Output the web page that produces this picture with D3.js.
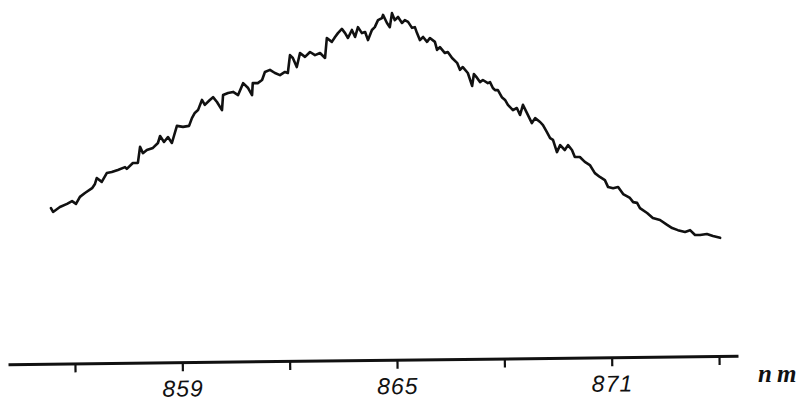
<!DOCTYPE html>
<meta charset="utf-8">
<style>
body {
  margin: 0;
  background: #fff;
}
svg {
  display: block;
}
.tick text {
  font: italic 23px "Liberation Sans", Arial, sans-serif;
  fill: #111;
  letter-spacing: 1px;
}
.unit {
  font: italic bold 25px "Liberation Serif", serif;
  fill: #111;
  letter-spacing: 5px;
}
</style>
<svg width="811" height="404"></svg>
<script src="https://cdn.jsdelivr.net/npm/d3@7"></script>
<script>

// wavelength (nm) and relative intensity
var wavelength = [
  855.33, 855.39, 855.58, 855.78, 855.92, 856.03, 856.14, 856.28, 856.48, 856.56,
  856.61, 856.75, 856.89, 857.03, 857.20, 857.40, 857.45, 857.62, 857.76, 857.82,
  857.90, 858.01, 858.18, 858.32, 858.38, 858.49, 858.60, 858.71, 858.85, 859.02,
  859.19, 859.27, 859.35, 859.44, 859.55, 859.63, 859.77, 859.86, 859.97, 860.11,
  860.14, 860.28, 860.42, 860.56, 860.70, 860.84, 860.95, 860.97, 861.11, 861.23,
  861.31, 861.45, 861.59, 861.73, 861.87, 861.95, 862.01, 862.09, 862.20, 862.29,
  862.43, 862.57, 862.71, 862.85, 862.99, 863.04, 863.18, 863.27, 863.35, 863.46,
  863.55, 863.63, 863.74, 863.83, 863.91, 864.02, 864.11, 864.19, 864.30, 864.38,
  864.47, 864.58, 864.61, 864.72, 864.80, 864.86, 864.94, 865.03, 865.14, 865.22,
  865.31, 865.42, 865.50, 865.56, 865.64, 865.73, 865.84, 865.92, 866.06, 866.12,
  866.20, 866.34, 866.42, 866.54, 866.68, 866.76, 866.84, 866.98, 867.10, 867.15,
  867.24, 867.32, 867.40, 867.54, 867.60, 867.68, 867.74, 867.82, 867.93, 868.02,
  868.10, 868.24, 868.35, 868.44, 868.52, 868.63, 868.77, 868.86, 869.00, 869.08,
  869.19, 869.28, 869.36, 869.47, 869.56, 869.69, 869.78, 869.89, 869.97, 870.11,
  870.25, 870.39, 870.53, 870.67, 870.81, 870.90, 871.04, 871.18, 871.32, 871.51,
  871.60, 871.71, 871.79, 871.99, 872.15, 872.35, 872.55, 872.69, 872.85, 873.05,
  873.19, 873.33, 873.47, 873.66, 873.83, 874.03
];
var intensity = [
  43.4, 42.3, 43.7, 44.6, 45.4, 44.6, 46.6, 47.7, 49.1, 50.3,
  52.0, 50.9, 53.4, 53.7, 54.3, 55.1, 54.6, 56.3, 56.3, 60.9,
  59.1, 60.0, 60.6, 62.0, 64.0, 62.3, 63.7, 62.0, 66.9, 66.6,
  66.9, 69.1, 70.6, 71.4, 74.3, 72.9, 74.3, 75.1, 73.7, 71.4,
  75.7, 76.3, 76.6, 75.7, 79.1, 77.7, 75.7, 79.1, 79.1, 80.0,
  82.3, 82.9, 82.0, 81.4, 82.3, 82.0, 87.1, 86.3, 83.7, 87.7,
  86.6, 88.0, 87.1, 87.7, 86.3, 92.0, 90.9, 92.3, 93.4, 94.6,
  93.4, 92.0, 94.3, 92.3, 95.1, 93.4, 93.7, 91.4, 94.3, 95.1,
  97.1, 97.7, 98.6, 96.3, 95.1, 99.1, 97.1, 98.0, 96.3, 97.1,
  96.6, 94.9, 95.1, 93.4, 91.4, 92.3, 90.9, 92.0, 90.9, 88.6,
  89.4, 87.7, 88.0, 86.3, 84.9, 82.9, 83.7, 82.0, 78.3, 81.7,
  80.6, 79.4, 80.0, 79.1, 79.4, 77.7, 77.1, 77.1, 75.1, 74.3,
  72.9, 71.4, 72.0, 70.0, 72.9, 70.6, 67.7, 69.1, 68.0, 67.1,
  65.1, 63.4, 62.9, 59.4, 61.4, 60.0, 61.4, 60.0, 58.0, 58.0,
  56.6, 55.7, 53.4, 52.3, 51.4, 49.4, 49.1, 49.4, 47.4, 46.3,
  45.1, 44.9, 43.4, 42.0, 40.6, 40.0, 38.6, 37.7, 37.1, 36.6,
  37.1, 35.7, 35.7, 36.0, 35.4, 34.9
];
var tickValues = [856, 859, 862, 865, 868, 871, 874];
var tickLabels = [859, 865, 871];

var svg = d3.select("svg");

var x = d3.scaleLinear()
    .domain([854.13, 874.53])
    .range([8, 738]);

var y = d3.scaleLinear()
    .domain([0, 100])
    .range([360, 10]);

var data = wavelength.map(function(w, i) { return [w, intensity[i]]; });

var line = d3.line()
    .x(function(d) { return x(d[0]); })
    .y(function(d) { return y(d[1]); });

svg.append("path")
    .datum(data)
    .attr("d", line)
    .attr("fill", "none")
    .attr("stroke", "#111")
    .attr("stroke-width", 2.6)
    .attr("stroke-linejoin", "round")
    .attr("stroke-linecap", "round");

// the paper axis is drawn a touch crooked
var axis = svg.append("g")
    .attr("transform", "translate(0,360) rotate(-0.65,373,0)")
    .call(d3.axisBottom(x)
      .tickValues(tickValues)
      .tickSize(9)
      .tickSizeOuter(0)
      .tickPadding(9)
      .tickFormat(function(d) { return tickLabels.indexOf(d) >= 0 ? d : ""; }));

axis.select(".domain")
    .attr("stroke", "#111")
    .attr("stroke-width", 3);

axis.selectAll(".tick line")
    .attr("stroke", "#111")
    .attr("stroke-width", 2.2);

svg.append("text")
    .attr("class", "unit")
    .attr("x", 758)
    .attr("y", 382)
    .text("nm");

</script>
